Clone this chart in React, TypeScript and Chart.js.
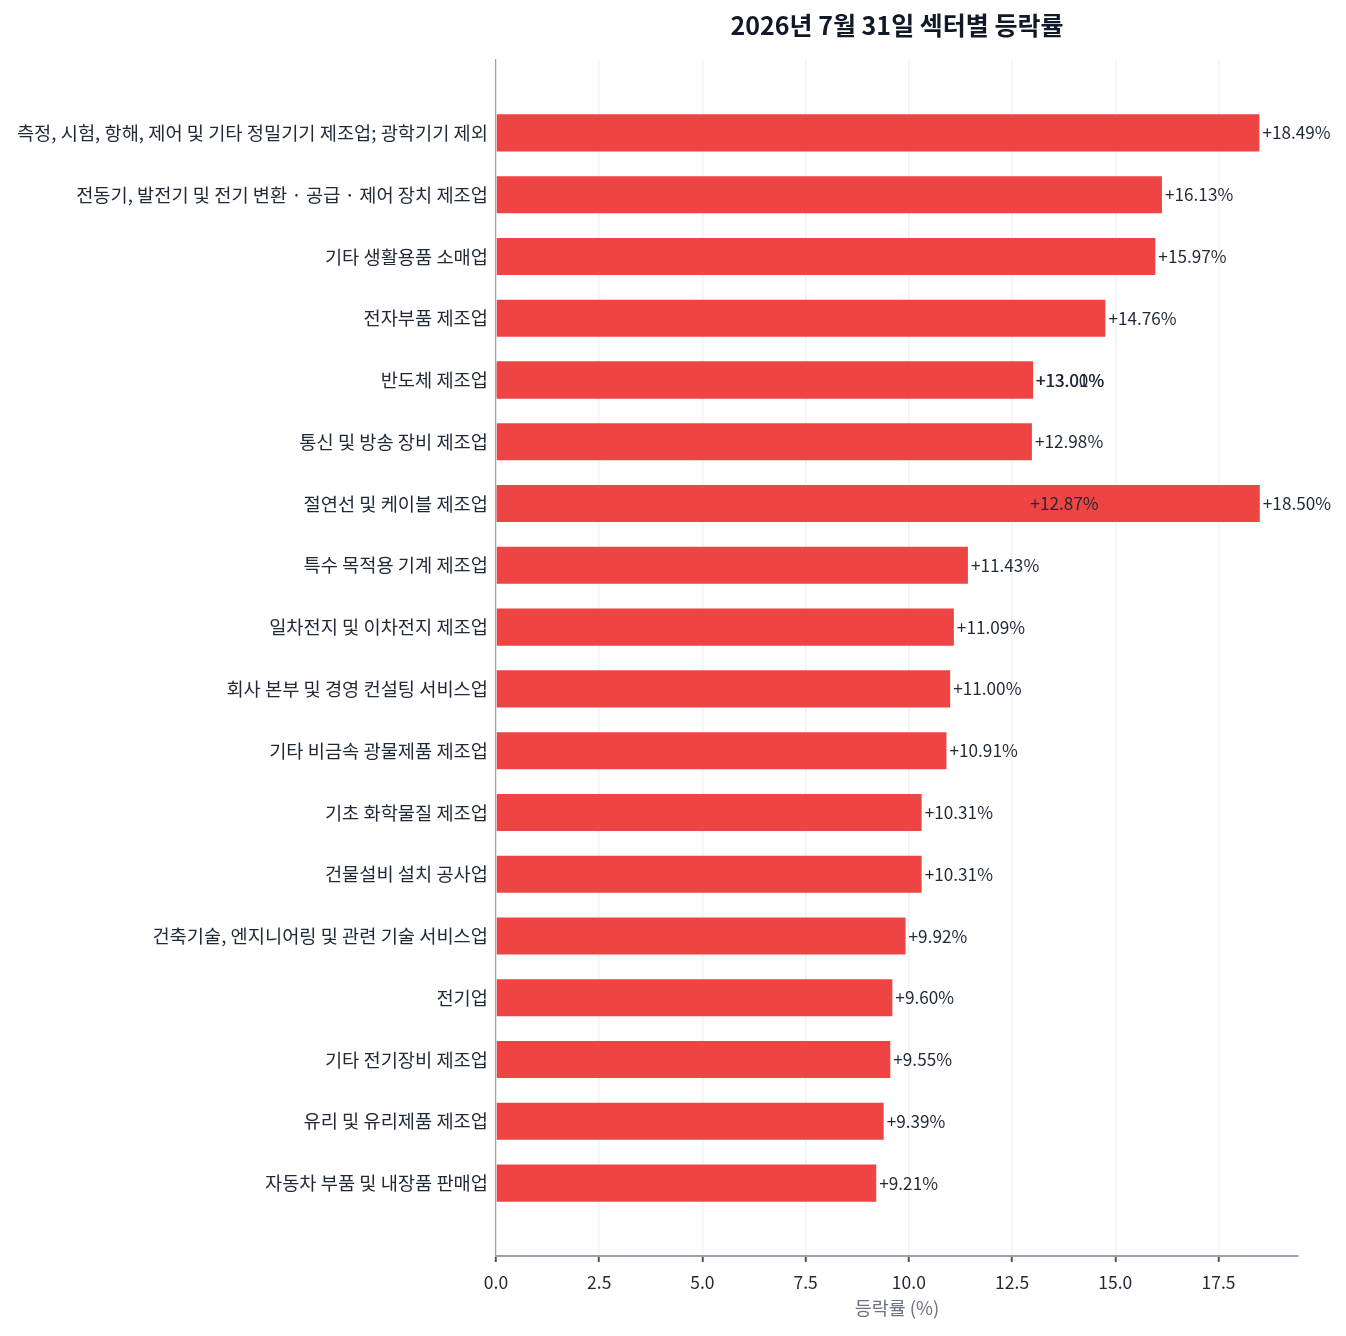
import React, { useEffect, useRef } from "react";
import { Chart, registerables } from "chart.js";

Chart.register(...registerables);

const TITLE = "2026년 7월 31일 섹터별 등락률";
const X_TITLE = "등락률 (%)";

// Source order (descending by change); some sector names appear twice
const sectors: string[] = [
  "절연선 및 케이블 제조업",
  "측정, 시험, 항해, 제어 및 기타 정밀기기 제조업; 광학기기 제외",
  "전동기, 발전기 및 전기 변환 · 공급 · 제어 장치 제조업",
  "기타 생활용품 소매업",
  "전자부품 제조업",
  "반도체 제조업",
  "반도체 제조업",
  "통신 및 방송 장비 제조업",
  "절연선 및 케이블 제조업",
  "특수 목적용 기계 제조업",
  "일차전지 및 이차전지 제조업",
  "회사 본부 및 경영 컨설팅 서비스업",
  "기타 비금속 광물제품 제조업",
  "기초 화학물질 제조업",
  "건물설비 설치 공사업",
  "건축기술, 엔지니어링 및 관련 기술 서비스업",
  "전기업",
  "기타 전기장비 제조업",
  "유리 및 유리제품 제조업",
  "자동차 부품 및 내장품 판매업",
];

const changes: number[] = [
  18.5, 18.49, 16.13, 15.97, 14.76, 13.01, 13.0, 12.98, 12.87, 11.43, 11.09,
  11.0, 10.91, 10.31, 10.31, 9.92, 9.6, 9.55, 9.39, 9.21,
];

const xTicks: number[] = [0, 2.5, 5, 7.5, 10, 12.5, 15, 17.5];

// Row order: first appearance when plotted from the smallest value upward
const rows: string[] = [];
[...sectors].reverse().forEach((s) => {
  if (!rows.includes(s)) rows.push(s);
});
rows.reverse();

const FONT = "'Noto Sans CJK KR', 'Noto Sans', sans-serif";

export default function App() {
  const ref = useRef<HTMLCanvasElement | null>(null);

  useEffect(() => {
    document.body.style.margin = "0";
    document.body.style.overflow = "hidden";
    const canvas = ref.current;
    if (!canvas) return;

    const n = rows.length;
    const low = -0.3;
    const high = n - 1 + 0.3;
    const margin = 0.05 * (high - low);
    const maxVal = Math.max(...changes);

    const valueLabels = {
      id: "valueLabels",
      afterDatasetsDraw(chart: any) {
        const ctx = chart.ctx;
        const meta = chart.getDatasetMeta(0);
        ctx.save();
        ctx.font = `17.2px ${FONT}`;
        ctx.fillStyle = "#1f2937";
        ctx.textAlign = "left";
        ctx.textBaseline = "middle";
        meta.data.forEach((el: any, i: number) => {
          const v = changes[i];
          ctx.fillText(`+${v.toFixed(2)}%`, el.x + 3, el.y);
        });
        ctx.restore();
      },
    };

    const chart = new Chart(canvas, {
      type: "bar",
      data: {
        datasets: [
          {
            data: changes.map((v, i) => ({ x: v, y: rows.indexOf(sectors[i]) })) as any,
            backgroundColor: "#ef4444",
            borderWidth: 0,
            barPercentage: 0.6,
            categoryPercentage: 1,
          },
        ],
      },
      options: {
        indexAxis: "y",
        animation: false,
        responsive: true,
        maintainAspectRatio: false,
        layout: { padding: { left: 0, right: 48, top: 0, bottom: 16.8 } },
        plugins: {
          legend: { display: false },
          tooltip: { enabled: false },
          title: {
            display: true,
            text: TITLE,
            fullSize: false,
            color: "#111827",
            font: { family: FONT, size: 25, weight: "bold" },
            padding: { top: 10, bottom: 20 },
          },
        },
        scales: {
          x: {
            type: "linear",
            position: "bottom",
            min: 0,
            max: maxVal * 1.05,
            afterBuildTicks(scale: any) {
              scale.ticks = xTicks.map((v) => ({ value: v }));
            },
            ticks: {
              autoSkip: false,
              includeBounds: false,
              padding: 10,
              color: "#1f2937",
              font: { family: FONT, size: 17.5 },
              callback: (v: any) => Number(v).toFixed(1),
            },
            grid: {
              color: "#f1f2f4",
              lineWidth: 1.5,
              drawTicks: true,
              tickLength: 6,
              tickColor: "#4b5563",
              tickWidth: 2,
            },
            border: { display: true, color: "#9ca3af", width: 2 },
            title: {
              display: true,
              text: X_TITLE,
              color: "#6b7280",
              font: { family: FONT, size: 18.5 },
              padding: { top: -6, bottom: 0 },
            },
          },
          y: {
            type: "linear",
            reverse: true,
            offset: false,
            min: low - margin,
            max: high + margin,
            afterBuildTicks(scale: any) {
              scale.ticks = rows.map((_, i) => ({ value: i }));
            },
            afterFit(scale: any) {
              scale.width = 496;
            },
            ticks: {
              autoSkip: false,
              padding: 8,
              color: "#1f2937",
              font: { family: FONT, size: 18.7 },
              callback: (v: any) => rows[Number(v)] ?? "",
            },
            grid: { display: false, drawTicks: false, offset: false },
            border: { display: true, color: "#9ca3af", width: 1.2 },
          },
        },
      },
      plugins: [valueLabels],
    });

    return () => chart.destroy();
  }, []);

  return (
    <div style={{ width: 1346, height: 1336, position: "relative" }}>
      <canvas ref={ref} />
    </div>
  );
}
